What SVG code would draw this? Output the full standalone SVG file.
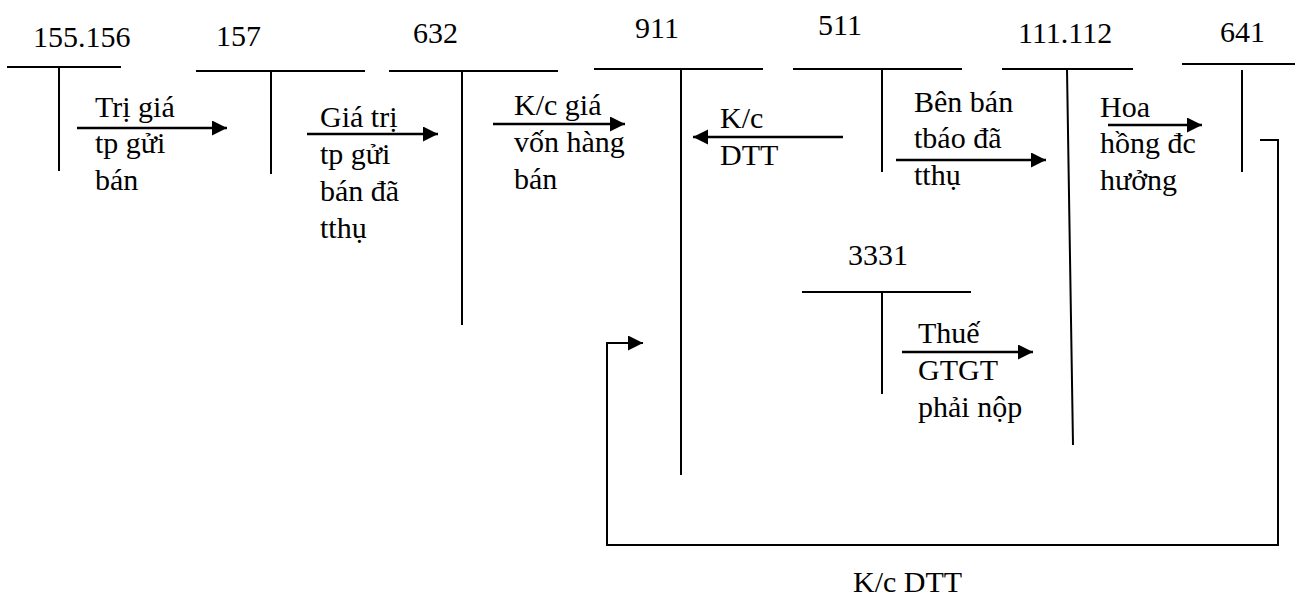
<svg xmlns="http://www.w3.org/2000/svg" width="1302" height="596" viewBox="0 0 1302 596">
<style>
text{font-family:"Liberation Serif",serif !important;font-size:30px;fill:#000}
.t{stroke:#000;stroke-width:2;fill:none}
.c{stroke:#000;stroke-width:2.5;fill:none}
.l{stroke:#000;stroke-width:2;fill:none}
</style>
<defs>
<marker id="ah" markerUnits="userSpaceOnUse" markerWidth="16" markerHeight="16" refX="15" refY="7.5" orient="auto">
<path d="M0,0 L15,7.5 L0,15 z" fill="#000"/>
</marker>
</defs>
<rect width="1302" height="596" fill="#fff"/>
<g id="acc-155-156"><text x="33" y="47" style="font-family:'Liberation Serif',serif !important">155.156</text><path class="t" d="M7,67 H121 M59,67 V171"/></g>
<g id="acc-157"><text x="216" y="46" style="font-family:'Liberation Serif',serif !important">157</text><path class="t" d="M196,71 H365 M271,71 V174"/></g>
<g id="acc-632"><text x="413" y="43" style="font-family:'Liberation Serif',serif !important">632</text><path class="t" d="M389,71 H558 M462,71 V325"/></g>
<g id="acc-911"><text x="635" y="38" style="font-family:'Liberation Serif',serif !important">911</text><path class="t" d="M594,69 H763 M681,69 V475"/></g>
<g id="acc-511"><text x="818" y="35" style="font-family:'Liberation Serif',serif !important">511</text><path class="t" d="M793,69 H962 M882,69 V172"/></g>
<g id="acc-111-112"><text x="1018" y="43" style="font-family:'Liberation Serif',serif !important">111.112</text><path class="t" d="M1002,69 H1133 M1067,69 L1073,445"/></g>
<g id="acc-641"><text x="1220" y="42" style="font-family:'Liberation Serif',serif !important">641</text><path class="t" d="M1182,64 H1295 M1242,70 V172"/></g>
<g id="acc-3331"><text x="848" y="265" style="font-family:'Liberation Serif',serif !important">3331</text><path class="t" d="M802,292 H971 M882,292 V394"/></g>
<g id="connectors">
<path class="c" d="M77,128 H227" marker-end="url(#ah)"/>
<path class="c" d="M307,134 H438" marker-end="url(#ah)"/>
<path class="c" d="M493,124 H625" marker-end="url(#ah)"/>
<path class="c" d="M843,137 H693" marker-end="url(#ah)"/>
<path class="c" d="M896,160 H1046" marker-end="url(#ah)"/>
<path class="c" d="M1108,125 H1202" marker-end="url(#ah)"/>
<path class="c" d="M902,352 H1033" marker-end="url(#ah)"/>
<path class="l" d="M1260,140 H1278 V545 H607 V343 H643" marker-end="url(#ah)"/>
</g>
<g id="labels">
<text x="95" y="117" style="font-family:'Liberation Serif',serif !important">Trị giá</text>
<text x="95" y="153" style="font-family:'Liberation Serif',serif !important">tp gửi</text>
<text x="95" y="190" style="font-family:'Liberation Serif',serif !important">bán</text>
<text x="320" y="127" style="font-family:'Liberation Serif',serif !important">Giá trị</text>
<text x="320" y="164" style="font-family:'Liberation Serif',serif !important">tp gửi</text>
<text x="320" y="201" style="font-family:'Liberation Serif',serif !important">bán đã</text>
<text x="320" y="238" style="font-family:'Liberation Serif',serif !important">tthụ</text>
<text x="514" y="115" style="font-family:'Liberation Serif',serif !important">K/c giá</text>
<text x="514" y="152" style="font-family:'Liberation Serif',serif !important">vốn hàng</text>
<text x="514" y="189" style="font-family:'Liberation Serif',serif !important">bán</text>
<text x="720" y="128" style="font-family:'Liberation Serif',serif !important">K/c</text>
<text x="720" y="165" style="font-family:'Liberation Serif',serif !important">DTT</text>
<text x="914" y="112" style="font-family:'Liberation Serif',serif !important">Bên bán</text>
<text x="914" y="148" style="font-family:'Liberation Serif',serif !important">tbáo đã</text>
<text x="914" y="185" style="font-family:'Liberation Serif',serif !important">tthụ</text>
<text x="1100" y="117" style="font-family:'Liberation Serif',serif !important">Hoa</text>
<text x="1100" y="153" style="font-family:'Liberation Serif',serif !important">hồng đc</text>
<text x="1100" y="190" style="font-family:'Liberation Serif',serif !important">hưởng</text>
<text x="918" y="343" style="font-family:'Liberation Serif',serif !important">Thuế</text>
<text x="918" y="380" style="font-family:'Liberation Serif',serif !important">GTGT</text>
<text x="918" y="417" style="font-family:'Liberation Serif',serif !important">phải nộp</text>
<text x="853" y="592" style="font-family:'Liberation Serif',serif !important">K/c DTT</text>
</g>
</svg>
